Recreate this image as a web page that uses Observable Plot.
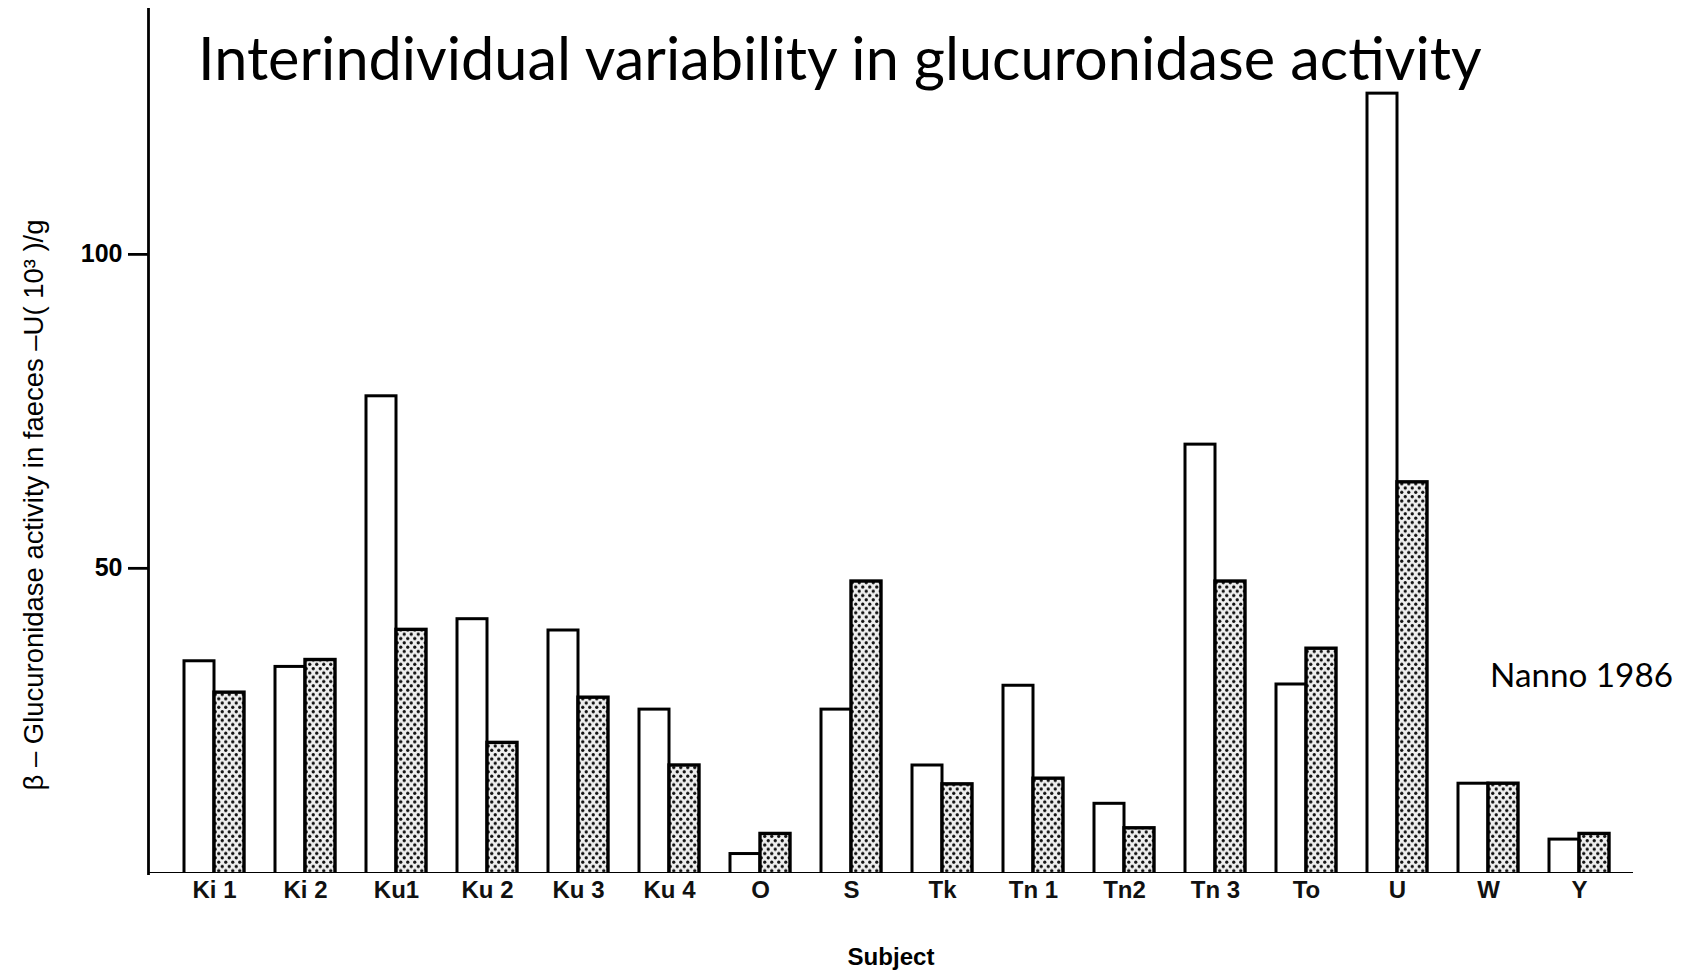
<!DOCTYPE html>
<html>
<head>
<meta charset="utf-8">
<script src="https://cdn.jsdelivr.net/npm/d3@7"></script>
<script src="https://cdn.jsdelivr.net/npm/@observablehq/plot@0.6"></script>
<style>
  html, body { margin: 0; padding: 0; background: #fff; }
  #chart { width: 1687px; height: 973px; }
</style>
</head>
<body>
<div id="chart"></div>
<script>
const subjects = ["Ki 1","Ki 2","Ku1","Ku 2","Ku 3","Ku 4","O","S","Tk","Tn 1","Tn2","Tn 3","To","U","W","Y"];
const valuesWhite = [35.2, 34.3, 77.4, 41.9, 40.1, 27.5, 4.5, 27.5, 18.6, 31.3, 12.5, 69.7, 31.5, 125.6, 15.7, 6.8];
const valuesDotted = [30.2, 35.4, 40.2, 22.2, 29.4, 18.6, 7.7, 47.9, 15.6, 16.5, 8.6, 47.9, 37.2, 63.7, 15.7, 7.7];
const yTicks = [50, 100];
const titleText = "Interindividual variability in glucuronidase activity";
const noteText = "Nanno 1986";
const yLabel = "\u03B2 \u2013 Glucuronidase activity in faeces \u2013U( 10\u00B3 )/g";
const xLabel = "Subject";

const white = subjects.map((s, i) => ({subject: s, value: valuesWhite[i]}));
const dotted = subjects.map((s, i) => ({subject: s, value: valuesDotted[i]}));

const W = 1687, H = 973;
const mL = 148, mR = 54, mT = 9, mB = 100;
const yDomain = [1.4, 139];

const chart = Plot.plot({
  width: W,
  height: H,
  marginLeft: mL,
  marginRight: mR,
  marginTop: mT,
  marginBottom: mB,
  clip: true,
  style: {background: "white", fontFamily: "'Liberation Sans', Arial, sans-serif", fontSize: "22px"},
  x: {domain: subjects, paddingInner: 0.345, paddingOuter: 0.2725, align: 0.59},
  y: {domain: yDomain},
  marks: [
    Plot.barY(white, {x: "subject", y: "value", fill: "white", stroke: "black", strokeWidth: 3, insetRight: 30}),
    Plot.barY(dotted, {x: "subject", y: "value", fill: "url(#dots)", stroke: "black", strokeWidth: 3.4, insetLeft: 30}),
    Plot.axisX({tickSize: 0, tickPadding: 7, label: null, fontSize: 24, fontWeight: "bold", fill: "#111"}),
    Plot.axisY({ticks: yTicks, tickSize: 20, tickPadding: 6, label: null, fontSize: 25, fontWeight: "bold", strokeWidth: 2.8, tickFormat: d => String(d)}),
    Plot.frame({anchor: "left", strokeWidth: 2.8, stroke: "black"}),
    Plot.ruleY([yDomain[0]], {strokeWidth: 3, stroke: "black"})
  ]
});

document.getElementById("chart").appendChild(chart);

const svg = d3.select(chart);
const defs = svg.insert("defs", ":first-child");
const pat = defs.append("pattern").attr("id", "dots").attr("patternUnits", "userSpaceOnUse")
  .attr("width", 7).attr("height", 8.6);
pat.append("rect").attr("width", 7).attr("height", 8.6).attr("fill", "#eeeeee");
pat.append("circle").attr("cx", 1.75).attr("cy", 2.15).attr("r", 1.65).attr("fill", "#111");
pat.append("circle").attr("cx", 5.25).attr("cy", 6.45).attr("r", 1.65).attr("fill", "#111");

function addText(txt, opts) {
  const t = svg.append("text")
    .attr("x", opts.x).attr("y", opts.y)
    .attr("font-family", opts.family)
    .attr("font-size", opts.size)
    .attr("font-weight", opts.weight || "normal")
    .attr("font-style", opts.style || "normal")
    .attr("text-anchor", opts.anchor || "start")
    .attr("fill", "#000")
    .text(txt);
  if (opts.rotate) t.attr("transform", `rotate(${opts.rotate},${opts.x},${opts.y})`);
  if (opts.targetWidth) {
    const len = t.node().getComputedTextLength();
    if (len > 0) t.attr("font-size", opts.size * opts.targetWidth / len);
  }
  return t;
}

addText(titleText, {x: 198, y: 80, family: "Lato, 'Open Sans', sans-serif", size: 57, targetWidth: 1284});
addText(noteText, {x: 1490, y: 687, family: "Lato, 'Open Sans', sans-serif", size: 31, targetWidth: 183});
addText(xLabel, {x: 891, y: 965, family: "'Liberation Sans', Arial, sans-serif", size: 22, weight: "bold", anchor: "middle", targetWidth: 87});
addText(yLabel, {x: 43, y: 505, family: "'Liberation Sans', Arial, sans-serif", size: 21, anchor: "middle", rotate: -90, targetWidth: 571});
</script>
</body>
</html>
